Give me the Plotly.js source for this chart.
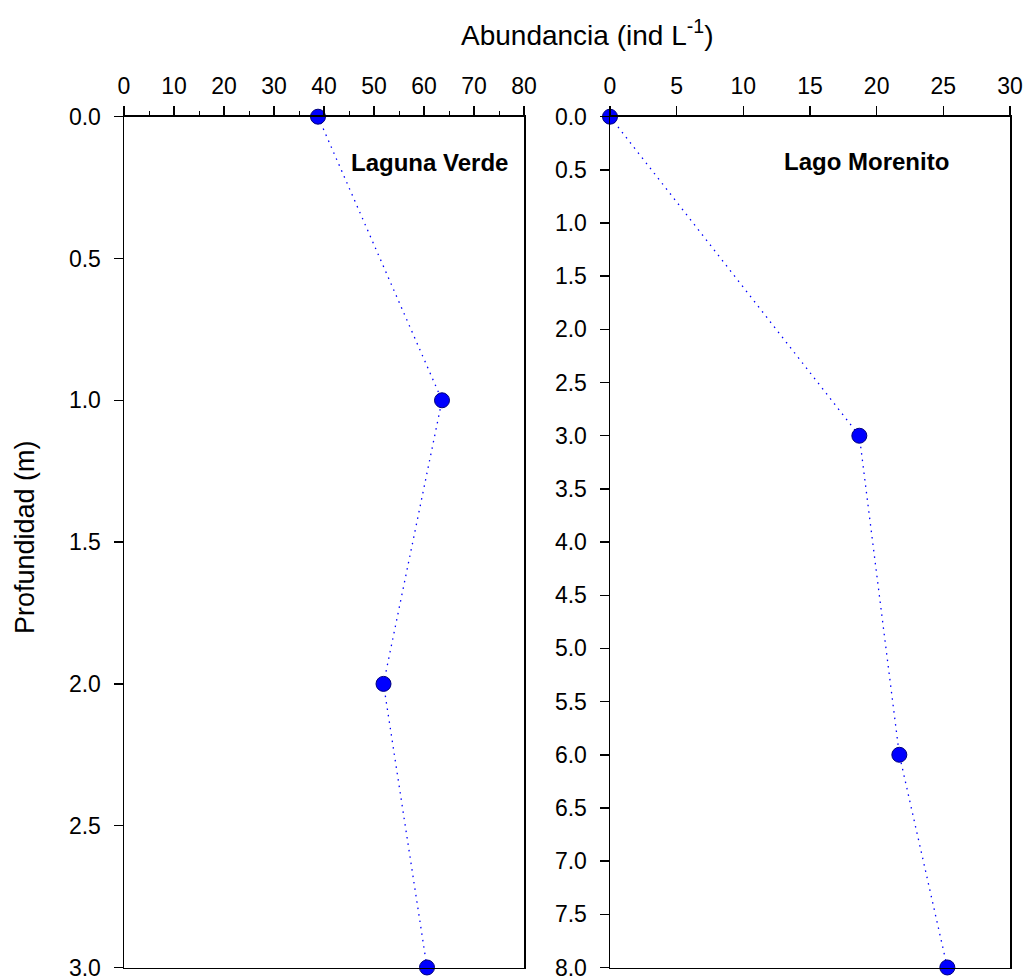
<!DOCTYPE html>
<html>
<head>
<meta charset="utf-8">
<script src="https://cdn.plot.ly/plotly-3.0.1.min.js"></script>
<style>html,body{margin:0;padding:0;background:#fff;}#chart{width:1027px;height:978px;}</style>
</head>
<body>
<div id="chart"></div>
<script>
// Laguna Verde
const verdeDepth = [0, 1, 2, 3];
const verdeAbund = [38.8, 63.6, 51.9, 60.6];
// Lago Morenito
const morenitoDepth = [0, 3, 6, 8];
const morenitoAbund = [0, 18.7, 21.7, 25.3];

const panelNames = ["Laguna Verde", "Lago Morenito"];
const xTitle = "Abundancia (ind L<sup>-1</sup>)";
const yTitle = "Profundidad (m)";

const FONT = "Liberation Sans, Arial, sans-serif";
const W = 1027, H = 978;

function px(v){ return v / W; }
function py(v){ return 1 - v / H; }

const markerStyle = {size: 15, color: "#0000ff", line: {color: "#00007a", width: 1}};
const lineStyle = {color: "#0000ff", width: 1.3, dash: "1.5px,5px"};

const traces = [
  {x: verdeAbund, y: verdeDepth, xaxis: "x", yaxis: "y", mode: "lines+markers",
   marker: markerStyle, line: lineStyle, cliponaxis: false, showlegend: false},
  {x: morenitoAbund, y: morenitoDepth, xaxis: "x2", yaxis: "y2", mode: "lines+markers",
   marker: markerStyle, line: lineStyle, cliponaxis: false, showlegend: false}
];

const tickFont = {family: FONT, size: 23, color: "#000"};
const axisCommon = {
  showgrid: false, zeroline: false, showline: true, linecolor: "#000", linewidth: 1.5,
  mirror: true, ticks: "outside", ticklen: 9, tickwidth: 1.5, tickcolor: "#000",
  tickfont: tickFont, fixedrange: true, ticklabeloverflow: "allow"
};

const layout = {
  width: W, height: H,
  margin: {l: 0, r: 0, t: 0, b: 0},
  paper_bgcolor: "#fff", plot_bgcolor: "#fff",
  font: {family: FONT, color: "#000"},
  xaxis: Object.assign({}, axisCommon, {
    domain: [px(124), px(524)], anchor: "y", side: "top",
    range: [0, 80], dtick: 10, tick0: 0, ticklabelstandoff: 3,
    minor: {dtick: 5, ticks: "outside", ticklen: 4, tickwidth: 1, tickcolor: "#000"}
  }),
  yaxis: Object.assign({}, axisCommon, {
    domain: [py(967.5), py(116.7)], anchor: "x",
    range: [3.0001, 0], dtick: 0.5, tick0: 0, tickformat: ".1f", ticklabelstandoff: 8
  }),
  xaxis2: Object.assign({}, axisCommon, {
    domain: [px(610), px(1010)], anchor: "y2", side: "top",
    range: [0, 30], dtick: 5, tick0: 0, ticklabelstandoff: 3
  }),
  yaxis2: Object.assign({}, axisCommon, {
    domain: [py(967.5), py(116.7)], anchor: "x2",
    range: [8.0003, 0], dtick: 0.5, tick0: 0, tickformat: ".1f", ticklabelstandoff: 8
  }),
  annotations: [
    {text: xTitle, xref: "paper", yref: "paper", x: px(587), y: py(33),
     xanchor: "center", yanchor: "middle", showarrow: false,
     font: {family: FONT, size: 28, color: "#000"}},
    {text: yTitle, xref: "paper", yref: "paper", x: px(25), y: py(537),
     xanchor: "center", yanchor: "middle", showarrow: false, textangle: -90,
     font: {family: FONT, size: 27, color: "#000"}},
    {text: "<b>" + panelNames[0] + "</b>", xref: "paper", yref: "paper", x: px(429), y: py(163),
     xanchor: "center", yanchor: "middle", showarrow: false,
     font: {family: FONT, size: 24, color: "#000"}},
    {text: "<b>" + panelNames[1] + "</b>", xref: "paper", yref: "paper", x: px(866), y: py(162),
     xanchor: "center", yanchor: "middle", showarrow: false,
     font: {family: FONT, size: 24, color: "#000"}}
  ]
};

Plotly.newPlot("chart", traces, layout, {staticPlot: true, displayModeBar: false});
</script>
</body>
</html>
